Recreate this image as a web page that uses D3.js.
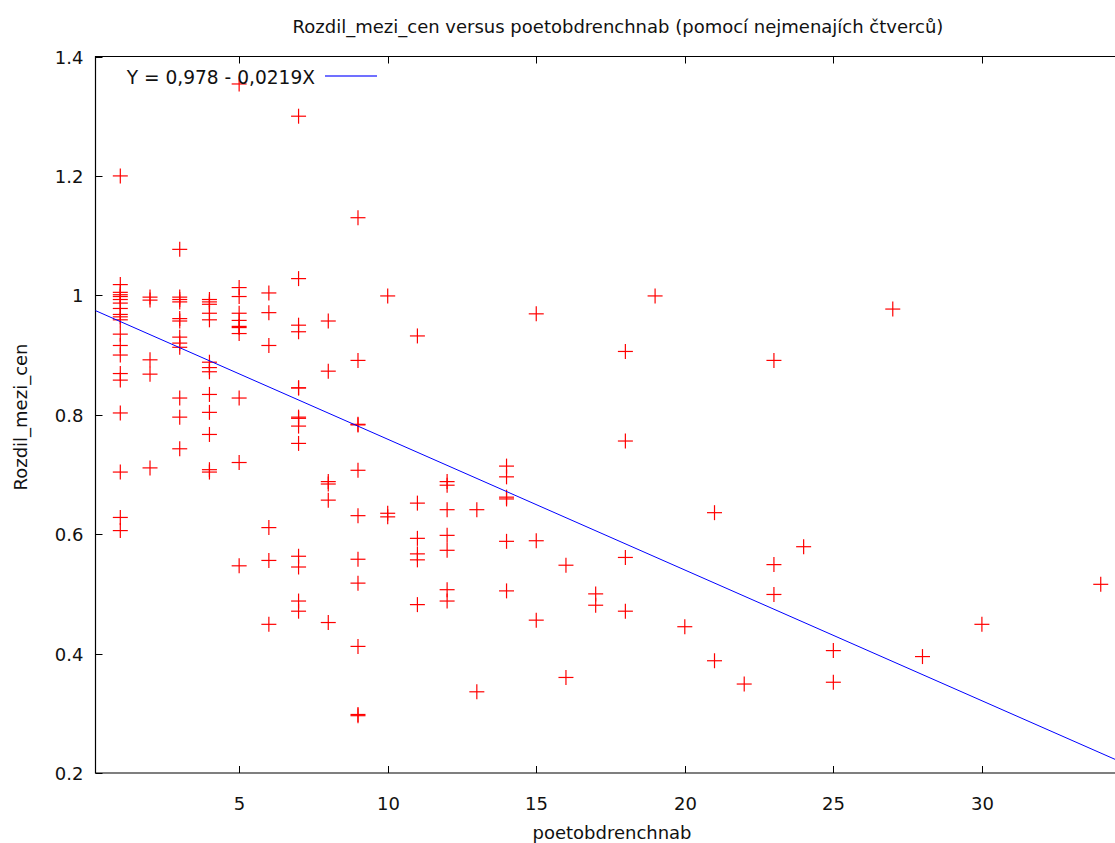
<!DOCTYPE html>
<html>
<head>
<meta charset="utf-8">
<script src="https://cdn.jsdelivr.net/npm/d3@7"></script>
<style>
  body { margin: 0; background: #fff; }
  text { font-family: "DejaVu Sans", Verdana, sans-serif; fill: #111; }
</style>
</head>
<body>
<script>
// x values (poetobdrenchnab) and y values (Rozdil_mezi_cen)
var xVals = [
  1,1,1,1,1,1,1,1,1,1,1,1,1,1,1,1,1,1,1,1,
  2,2,2,2,2,
  3,3,3,3,3,3,3,3,3,3,3,3,
  4,4,4,4,4,4,4,4,4,4,4,4,4,
  5,5,5,5,5,5,5,5,5,5,5,
  6,6,6,6,6,6,
  7,7,7,7,7,7,7,7,7,7,7,7,7,7,
  8,8,8,8,8,8,
  9,9,9,9,9,9,9,9,9,9,9,
  10,10,10,
  11,11,11,11,11,11,
  12,12,12,12,12,12,12,
  13,13,
  14,14,14,14,14,14,
  15,15,15,
  16,16,
  17,17,
  18,18,18,18,
  19,20,21,21,22,
  23,23,23,24,25,25,27,28,30,34
];
var yVals = [
  1.200,1.018,1.005,1.001,0.998,0.993,0.987,0.978,0.968,0.964,0.959,0.935,0.916,0.900,0.869,0.858,0.803,0.704,0.628,0.606,
  0.997,0.992,0.892,0.868,0.711,
  1.077,0.997,0.993,0.989,0.961,0.957,0.930,0.920,0.913,0.828,0.796,0.743,
  0.993,0.989,0.985,0.970,0.959,0.888,0.879,0.872,0.834,0.804,0.767,0.708,0.704,
  1.354,1.013,0.998,0.970,0.958,0.948,0.946,0.936,0.828,0.720,0.547,
  1.004,0.971,0.916,0.611,0.556,0.449,
  1.300,1.028,0.950,0.939,0.845,0.796,0.794,0.781,0.752,0.563,0.545,0.488,0.471,0.845,
  0.957,0.873,0.688,0.684,0.657,0.452,
  1.130,0.891,0.784,0.707,0.631,0.558,0.518,0.412,0.298,0.296,0.783,
  0.999,0.635,0.629,
  0.932,0.652,0.593,0.567,0.557,0.482,
  0.688,0.682,0.641,0.598,0.573,0.507,0.488,
  0.641,0.336,
  0.714,0.696,0.662,0.659,0.588,0.505,
  0.969,0.589,0.456,
  0.548,0.360,
  0.500,0.481,
  0.906,0.756,0.561,0.471,
  0.999,0.445,0.636,0.388,0.349,
  0.891,0.549,0.499,0.579,0.405,0.352,0.977,0.395,0.449,0.516
];
var xTicks = [5, 10, 15, 20, 25, 30];
var yTicks = [0.2, 0.4, 0.6, 0.8, 1, 1.2, 1.4];
var fitA = 0.978, fitB = -0.0219;
var fitLabel = "Y = 0,978 - 0,0219X";

var width = 1115, height = 843;
// plot area edges (don't call these top/left: window.top is read-only)
var pLeft = 95.5, pTop = 56.5, pRight = 1115, pBottom = 773;

var svg = d3.select("body").append("svg")
    .attr("width", width)
    .attr("height", height);

var x = d3.scaleLinear().domain([0.165, 34.48]).range([pLeft, pRight]);
var y = d3.scaleLinear().domain([0.2, 1.4]).range([pBottom, pTop]);

// title
svg.append("text")
    .attr("x", 618).attr("y", 33)
    .attr("text-anchor", "middle")
    .style("font-size", "18px")
    .text("Rozdil_mezi_cen versus poetobdrenchnab (pomocí nejmenajích čtverců)");

// axis labels
svg.append("text")
    .attr("x", 612).attr("y", 839)
    .attr("text-anchor", "middle")
    .style("font-size", "18px")
    .text("poetobdrenchnab");

svg.append("text")
    .attr("transform", "translate(27,417) rotate(-90)")
    .attr("text-anchor", "middle")
    .style("font-size", "18px")
    .text("Rozdil_mezi_cen");

// ticks (inward, mirrored on top)
var tk = svg.append("g").attr("stroke", "#000").attr("stroke-width", 1);
xTicks.forEach(function(t) {
    var px = Math.round(x(t)) + 0.5;
    tk.append("line").attr("x1", px).attr("x2", px).attr("y1", pBottom).attr("y2", pBottom - 7);
    tk.append("line").attr("x1", px).attr("x2", px).attr("y1", pTop).attr("y2", pTop + 7);
    svg.append("text")
        .attr("x", px).attr("y", pBottom + 37)
        .attr("text-anchor", "middle")
        .style("font-size", "18px")
        .text(t);
});
yTicks.forEach(function(t) {
    var py = Math.round(y(t)) + 0.5;
    tk.append("line").attr("x1", pLeft).attr("x2", pLeft + 7).attr("y1", py).attr("y2", py);
    svg.append("text")
        .attr("x", pLeft - 12).attr("y", py + 6.5)
        .attr("text-anchor", "end")
        .style("font-size", "18px")
        .text(t.toString());
});

// border
svg.append("path")
    .attr("d", "M" + pRight + "," + pTop + "H" + pLeft + "V" + pBottom + "H" + pRight)
    .attr("fill", "none")
    .attr("stroke", "#000")
    .attr("stroke-width", 1.2);

// data points as crosses
var pts = svg.append("g").attr("stroke", "#ff0000").attr("stroke-width", 1.2);
xVals.forEach(function(xv, i) {
    var cx = x(xv), cy = y(yVals[i]);
    pts.append("line").attr("x1", cx - 7.5).attr("x2", cx + 7.5).attr("y1", cy).attr("y2", cy);
    pts.append("line").attr("x1", cx).attr("x2", cx).attr("y1", cy - 7.5).attr("y2", cy + 7.5);
});

// least squares line
var line = d3.line().x(d => x(d)).y(d => y(fitA + fitB * d));
svg.append("path")
    .datum(x.domain())
    .attr("d", line)
    .attr("fill", "none")
    .attr("stroke", "#0000ff")
    .attr("stroke-width", 1);

// legend
svg.append("text")
    .attr("x", 315).attr("y", 84)
    .attr("text-anchor", "end")
    .style("font-size", "18.6px")
    .text(fitLabel);
svg.append("line")
    .attr("x1", 325).attr("x2", 377)
    .attr("y1", 76).attr("y2", 76)
    .attr("stroke", "#4040ff")
    .attr("stroke-width", 1.3);
</script>
</body>
</html>
